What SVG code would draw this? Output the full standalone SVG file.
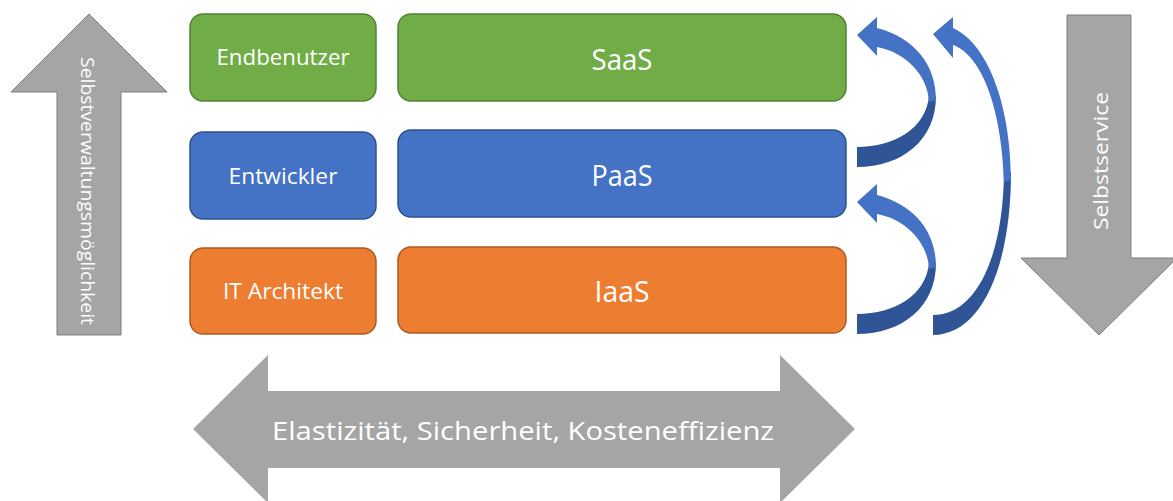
<svg xmlns="http://www.w3.org/2000/svg" width="1173" height="501" viewBox="0 0 1173 501">
<style>
.box{stroke-width:1.5}
.g{fill:#70AD47;stroke:#548235}
.b{fill:#4472C4;stroke:#2F528F}
.o{fill:#ED7D31;stroke:#AE5A21}
.t{font-family:"Open Sans","Liberation Sans",sans-serif;fill:#FFFFFF;text-anchor:middle;dominant-baseline:central}
.gray{fill:#A5A5A5}
.grayS{fill:#A5A5A5;stroke:#7F7F7F;stroke-width:1}
.light{fill:#4472C4}
.dark{fill:#2F5597}
</style>
<rect width="1173" height="501" fill="#FFFFFF"/>

<g id="arrow-left">
<polygon class="grayS" points="89,14 167,92 121,92 121,335 57,335 57,92 11,92"/>
<text class="t" font-size="19" transform="translate(88,191) rotate(90)" textLength="268" lengthAdjust="spacingAndGlyphs">Selbstverwaltungsmöglichkeit</text>
</g>

<g id="arrow-right">
<polygon class="grayS" points="1067,15 1131,15 1131,258 1177,258 1099,335 1021,258 1067,258"/>
<text class="t" font-size="20" transform="translate(1100,161) rotate(-90)" textLength="138" lengthAdjust="spacingAndGlyphs">Selbstservice</text>
</g>

<g id="arrow-bottom">
<polygon class="gray" points="193,429 268,355 268,391 780,391 780,355 855,429 780,503 780,468 268,468 268,503"/>
<text class="t" font-size="25" x="523" y="430" textLength="502" lengthAdjust="spacingAndGlyphs">Elastizität, Sicherheit, Kosteneffizienz</text>
</g>

<g id="endbenutzer">
<rect class="box g" x="190" y="14" width="186" height="87" rx="13"/>
<text class="t" font-size="21" x="283" y="57" textLength="133" lengthAdjust="spacingAndGlyphs">Endbenutzer</text>
</g>
<g id="entwickler">
<rect class="box b" x="190" y="132" width="186" height="87" rx="13"/>
<text class="t" font-size="21" x="283" y="176" textLength="109" lengthAdjust="spacingAndGlyphs">Entwickler</text>
</g>
<g id="itarchitekt">
<rect class="box o" x="190" y="248" width="186" height="86" rx="13"/>
<text class="t" font-size="21" x="283" y="291" textLength="120" lengthAdjust="spacingAndGlyphs">IT Architekt</text>
</g>

<g id="saas">
<rect class="box g" x="398" y="14" width="448" height="87" rx="13"/>
<text class="t" font-size="29" x="622" y="58" textLength="61" lengthAdjust="spacingAndGlyphs">SaaS</text>
</g>
<g id="paas">
<rect class="box b" x="398" y="130" width="448" height="87" rx="13"/>
<text class="t" font-size="29" x="622" y="174" textLength="61" lengthAdjust="spacingAndGlyphs">PaaS</text>
</g>
<g id="iaas">
<rect class="box o" x="398" y="247" width="448" height="86" rx="13"/>
<text class="t" font-size="29" x="622" y="290" textLength="55" lengthAdjust="spacingAndGlyphs">IaaS</text>
</g>

<g id="connectors">
<g id="c-paas-saas">
<path class="dark" d="M857,147 C895,147 926,128 929,96 L936,96 C936,140 902,167 857,167 Z"/>
<path class="light" d="M877,28 C915,38 936,65 936,100 L929,102 C928,75 905,52 877,47 L877,56 L857,35 L877,17 Z"/>
</g>
<g id="c-iaas-paas">
<path class="dark" d="M857,314 C895,314 926,295 929,263 L936,263 C936,307 902,334 857,334 Z"/>
<path class="light" d="M877,195 C915,205 936,232 936,267 L929,269 C928,242 905,219 877,214 L877,223 L857,202 L877,184 Z"/>
</g>
<g id="c-iaas-saas">
<path class="dark" d="M933,315 C975,315 1003,260 1004,172 L1011,172 C1011,270 980,335 933,335 Z"/>
<path class="light" d="M953,28 C990,45 1011,110 1011,180 L1004,182 C1002,110 982,55 953,45 L953,58 L933,34 L953,17 Z"/>
</g>
</g>
</svg>
